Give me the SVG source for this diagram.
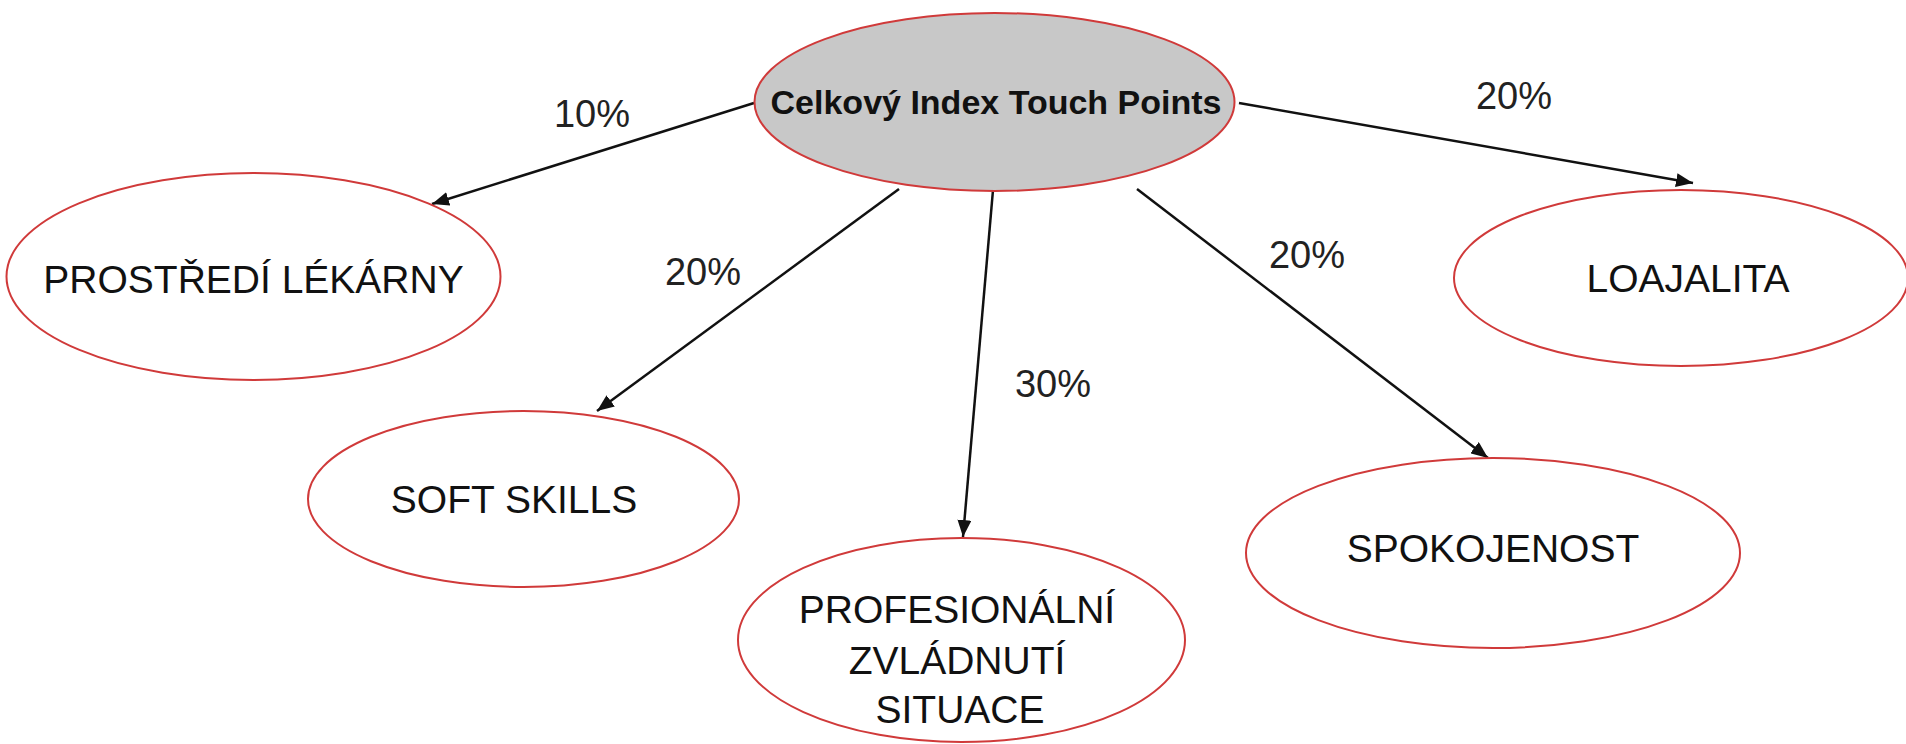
<svg xmlns="http://www.w3.org/2000/svg" width="1906" height="744" viewBox="0 0 1906 744">
<style>
.node{fill:#ffffff;stroke:#d03a3a;stroke-width:2}
.root{fill:#c8c8c8;stroke:#d03a3a;stroke-width:2}
.lbl{font-family:"Liberation Sans",Arial,sans-serif;font-size:39px;fill:#111;text-anchor:middle}
.title{font-family:"Liberation Sans",Arial,sans-serif;font-size:34px;font-weight:bold;fill:#111;text-anchor:middle}
.pct{font-family:"Liberation Sans",Arial,sans-serif;font-size:38px;fill:#222;text-anchor:middle}
.edge{stroke:#111;stroke-width:2.5;fill:none;marker-end:url(#arr)}
</style>
<defs>
<marker id="arr" markerUnits="userSpaceOnUse" markerWidth="18" markerHeight="14" refX="17" refY="7" orient="auto">
<path d="M0,0 L17,7 L0,14 Z" fill="#111"/>
</marker>
</defs>
<rect width="1906" height="744" fill="#ffffff"/>
<g id="connectors">
<line class="edge" x1="754" y1="103" x2="432" y2="204"/>
<line class="edge" x1="899" y1="189" x2="597" y2="411"/>
<line class="edge" x1="993" y1="190" x2="963" y2="537"/>
<line class="edge" x1="1137" y1="189" x2="1488" y2="458"/>
<line class="edge" x1="1239" y1="103" x2="1693" y2="183"/>
<text class="pct" x="592" y="127">10%</text>
<text class="pct" x="703" y="285">20%</text>
<text class="pct" x="1053" y="397">30%</text>
<text class="pct" x="1307" y="268">20%</text>
<text class="pct" x="1514" y="109">20%</text>
</g>
<g id="root">
<ellipse class="root" cx="994.5" cy="102" rx="240" ry="89"/>
<text class="title" x="996" y="114">Celkový Index Touch Points</text>
</g>
<g id="prostredi">
<ellipse class="node" cx="253.5" cy="276.5" rx="247" ry="103.5"/>
<text class="lbl" x="253.5" y="293">PROSTŘEDÍ LÉKÁRNY</text>
</g>
<g id="softskills">
<ellipse class="node" cx="523.5" cy="499" rx="215.5" ry="88"/>
<text class="lbl" x="514" y="513">SOFT SKILLS</text>
</g>
<g id="profesionalni">
<ellipse class="node" cx="961.5" cy="640" rx="223.5" ry="102"/>
<text class="lbl" x="957" y="623">PROFESIONÁLNÍ</text>
<text class="lbl" x="957" y="674">ZVLÁDNUTÍ</text>
<text class="lbl" x="960" y="723">SITUACE</text>
</g>
<g id="spokojenost">
<ellipse class="node" cx="1493" cy="553" rx="247" ry="95"/>
<text class="lbl" x="1493" y="562">SPOKOJENOST</text>
</g>
<g id="loajalita">
<ellipse class="node" cx="1681" cy="278" rx="227" ry="88"/>
<text class="lbl" x="1688" y="292">LOAJALITA</text>
</g>
</svg>
